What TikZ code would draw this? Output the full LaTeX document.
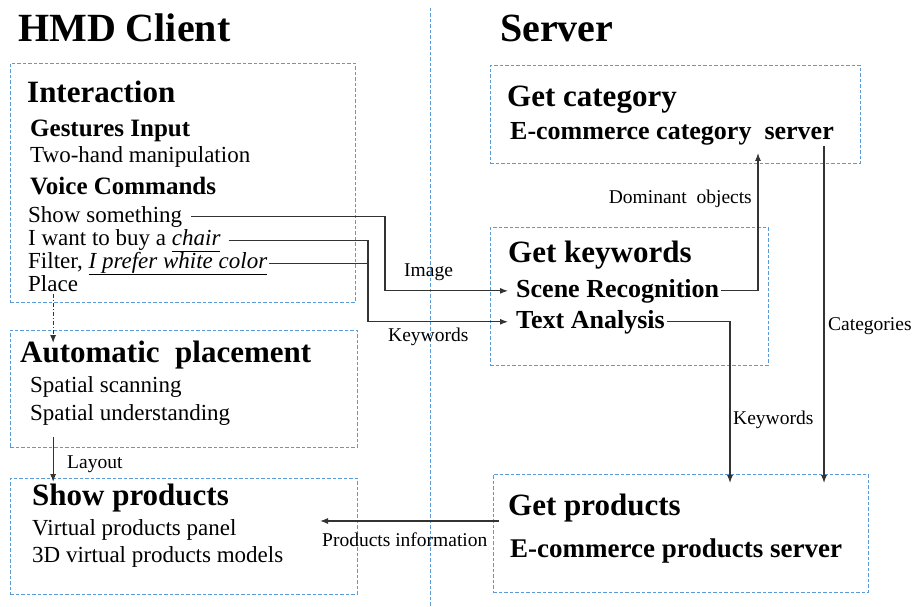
\documentclass[tikz,border=0pt]{standalone}
\usepackage{fontspec}
\setmainfont{Liberation Serif}
\usetikzlibrary{arrows.meta}
\definecolor{boxblue}{RGB}{91,155,213}
\newcommand{\ulword}[1]{\underline{#1\vphantom{p}}}

\begin{document}
\begin{tikzpicture}[x=1pt,y=-1pt,
  box/.style={draw=boxblue,line width=0.9pt,dash pattern=on 3.5pt off 2pt,anchor=north west,inner sep=0pt},
  title/.style={anchor=base west,inner sep=0pt,font=\fontsize{40}{46}\selectfont\bfseries},
  head/.style={anchor=base west,inner sep=0pt,font=\fontsize{31}{36}\selectfont\bfseries},
  sub/.style={anchor=base west,inner sep=0pt,font=\fontsize{26}{30}\selectfont\bfseries},
  item/.style={anchor=base west,inner sep=0pt,font=\fontsize{23}{27}\selectfont},
  lbl/.style={anchor=base west,inner sep=0pt,font=\fontsize{19.5}{23}\selectfont},
  conn/.style={draw=black!80,line width=1.1pt,-{Latex[length=8pt,width=6pt]}}]
\useasboundingbox (0,0) rectangle (913,607);
\draw[draw=boxblue,line width=0.9pt,dash pattern=on 3.5pt off 2pt] (430,8) -- (430,607);

% titles
\node[title] (client) at (18,42) {HMD Client};
\node[title] (server) at (500,42) {Server};

% client side boxes
\node[box,minimum width=345pt,minimum height=239pt] (interBox) at (10,63) {};
\node[box,minimum width=347pt,minimum height=117pt] (autoBox) at (10,330) {};
\node[box,minimum width=347pt,minimum height=116pt] (showBox) at (10,478) {};

\node[head] (inter) at (27,103) {Interaction};
\node[sub,font=\fontsize{25}{30}\selectfont\bfseries] (gest) at (30,137) {Gestures Input};
\node[item] (twohand) at (30,162) {Two-hand manipulation};
\node[sub,font=\fontsize{25}{30}\selectfont\bfseries] (voice) at (30,194) {Voice Commands};
\node[item] (show) at (28,222) {Show something};
\node[item] (buy) at (28,245) {I want to buy a \ulword{\itshape chair}};
\node[item] (filt) at (28,268) {Filter, \ulword{\itshape I prefer white color}};
\node[item] (place) at (28,291) {Place};

\node[head] (auto) at (20,362) {Automatic~ placement};
\node[item] (scan) at (30,392) {Spatial scanning};
\node[item] (under) at (30,420) {Spatial understanding};

\node[head] (showp) at (32,505) {Show products};
\node[item] (panel) at (32,535) {Virtual products panel};
\node[item] (models) at (32,562) {3D virtual products models};

% server side boxes
\node[box,minimum width=370pt,minimum height=98pt] (catBox) at (490,65) {};
\node[box,minimum width=278pt,minimum height=138pt] (kwBox) at (490,227) {};
\node[box,minimum width=375pt,minimum height=118pt] (prodBox) at (493,474) {};

\node[head] (getcat) at (507,107) {Get category};
\node[sub] (ecat) at (510,140) {E-commerce category~ server};
\node[head] (getkw) at (508,262) {Get keywords};
\node[sub] (scene) at (516,297) {Scene Recognition};
\node[sub] (text) at (516,328) {Text Analysis};
\node[head] (getprod) at (508,515) {Get products};
\node[sub,font=\fontsize{27}{31}\selectfont\bfseries] (eprod) at (510,557) {E-commerce products server};

% bend points
\coordinate (imgX) at (385,0);
\coordinate (kwX) at (368,0);
\coordinate (domX) at (758,153);
\coordinate (catX) at (824,0);
\coordinate (kwDownX) at (730,0);
\coordinate (infoStart) at (499,521);
\coordinate (infoEnd) at (320,521);

% connectors
\draw[conn] ([xshift=9pt]show.east) -| (imgX |- scene.west) -- ([xshift=-8pt]scene.west);
\draw[conn] ([xshift=8pt]buy.east) -| (kwX |- text.west) -- ([xshift=-8pt]text.west);
\draw[conn,-] ([xshift=2pt]filt.east) -- (filt.east -| kwX);
\draw[conn] ([xshift=2pt]scene.east) -| (domX);
\draw[conn] (catX |- ecat.south) -- ([yshift=-9pt]catX |- prodBox.north);
\draw[conn] ([xshift=2pt]text.east) -| ([yshift=-9pt]kwDownX |- prodBox.north);
\draw[conn] (infoStart) -- (infoEnd);
\draw[conn,dash pattern=on 4pt off 2pt on 1pt off 2pt] ([yshift=-3pt]place.south) -- ([yshift=-13pt]place.south |- autoBox.north);
\draw[conn] ([yshift=11pt]place.south |- autoBox.south) -- ([yshift=-4pt]place.south |- showBox.north);

% connector labels
\node[lbl,anchor=base east] (domLbl) at (752,203) {Dominant~ objects};
\node[lbl] (imgLbl) at (404,276) {Image};
\node[lbl] (kwLbl) at (388,341) {Keywords};
\node[lbl] (catLbl) at (828,330) {Categories};
\node[lbl] (kwLbl2) at (733,424) {Keywords};
\node[lbl] (layLbl) at (67,468) {Layout};
\node[lbl] (infoLbl) at (322,546) {Products information};
\end{tikzpicture}
\end{document}
